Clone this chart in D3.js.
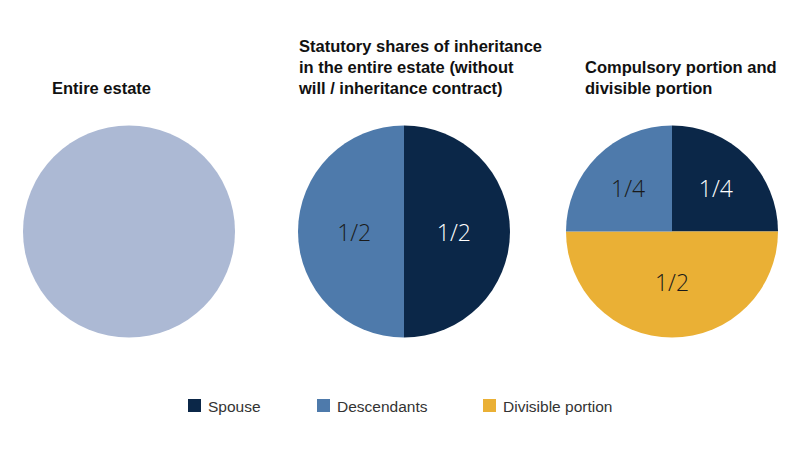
<!DOCTYPE html>
<html><head><meta charset="utf-8">
<script src="https://cdn.jsdelivr.net/npm/d3@7"></script>
<style>body{margin:0;background:#fff}svg{display:block}</style>
</head><body>
<svg id="c" width="800" height="450"></svg>
<script>
const categories = ["Spouse", "Descendants", "Divisible portion", "Entire estate"];
const colors = ["#0b2748", "#4e7aab", "#eab035", "#acb9d4"];
const labelColors = ["#ffffff", "#1a1a1a", "#1a1a1a", "#1a1a1a"];
const pieTitles = [
  ["Entire estate"],
  ["Statutory shares of inheritance", "in the entire estate (without", "will / inheritance contract)"],
  ["Compulsory portion and", "divisible portion"]
];
// each pie: categories in drawing order (clockwise from 12 o'clock), values, labels
const pie1Cats = ["Entire estate"];
const pie1Values = [1];
const pie1Labels = [""];
const pie2Cats = ["Spouse", "Descendants"];
const pie2Values = [1/2, 1/2];
const pie2Labels = ["1/2", "1/2"];
const pie3Cats = ["Spouse", "Divisible portion", "Descendants"];
const pie3Values = [1/4, 1/2, 1/4];
const pie3Labels = ["1/4", "1/2", "1/4"];
const legendCats = ["Spouse", "Descendants", "Divisible portion"];

const svg = d3.select("#c");
const color = d3.scaleOrdinal().domain(categories).range(colors);
const lblColor = d3.scaleOrdinal().domain(categories).range(labelColors);

const pies = [
  {cats: pie1Cats, vals: pie1Values, labels: pie1Labels, cx: 129, tx: 52},
  {cats: pie2Cats, vals: pie2Values, labels: pie2Labels, cx: 404, tx: 299},
  {cats: pie3Cats, vals: pie3Values, labels: pie3Labels, cx: 672, tx: 585}
];
const R = 106, cy = 231.5;
const pieGen = d3.pie().sort(null).value(d => d.v);
const arc = d3.arc().innerRadius(0).outerRadius(R);

pies.forEach((p, i) => {
  const data = p.cats.map((c, j) => ({c, v: p.vals[j], l: p.labels[j]}));
  const g = svg.append("g").attr("transform", `translate(${p.cx},${cy})`);
  const arcs = pieGen(data);
  g.selectAll("path").data(arcs).enter().append("path")
    .attr("d", arc).attr("fill", d => color(d.data.c));
  g.selectAll("text").data(arcs).enter().append("text")
    .attr("transform", d => {
      const span = d.endAngle - d.startAngle;
      const lr = span >= Math.PI - 1e-6 ? 0.47 * R : 0.585 * R;
      const a = (d.startAngle + d.endAngle) / 2;
      return `translate(${lr * Math.sin(a)},${-lr * Math.cos(a)})`;
    })
    .attr("dy", "0.4em")
    .attr("text-anchor", "middle")
    .style("font-family", "'Open Sans', 'Liberation Sans', Arial, sans-serif")
    .style("font-weight", 300)
    .style("font-size", "23px")
    .attr("fill", d => lblColor(d.data.c))
    .text(d => d.data.l);
  // title
  const lines = pieTitles[i];
  const t = svg.append("text")
    .attr("x", p.tx)
    .style("font-family", "'Liberation Sans', Arial, sans-serif")
    .style("font-weight", "bold")
    .style("font-size", "16.5px")
    .attr("fill", "#111");
  lines.forEach((ln, k) => {
    t.append("tspan").attr("x", p.tx).attr("y", 94 - (lines.length - 1 - k) * 21).text(ln);
  });
});

// legend
const legendX = [188, 317, 483];
const lg = svg.append("g");
legendCats.forEach((c, i) => {
  lg.append("rect").attr("x", legendX[i]).attr("y", 399).attr("width", 13).attr("height", 13)
    .attr("fill", color(c));
  lg.append("text").attr("x", legendX[i] + 20).attr("y", 411.5)
    .style("font-family", "'Liberation Sans', Arial, sans-serif")
    .style("font-size", "15.5px")
    .attr("fill", "#333")
    .text(c);
});
</script>
</body></html>
